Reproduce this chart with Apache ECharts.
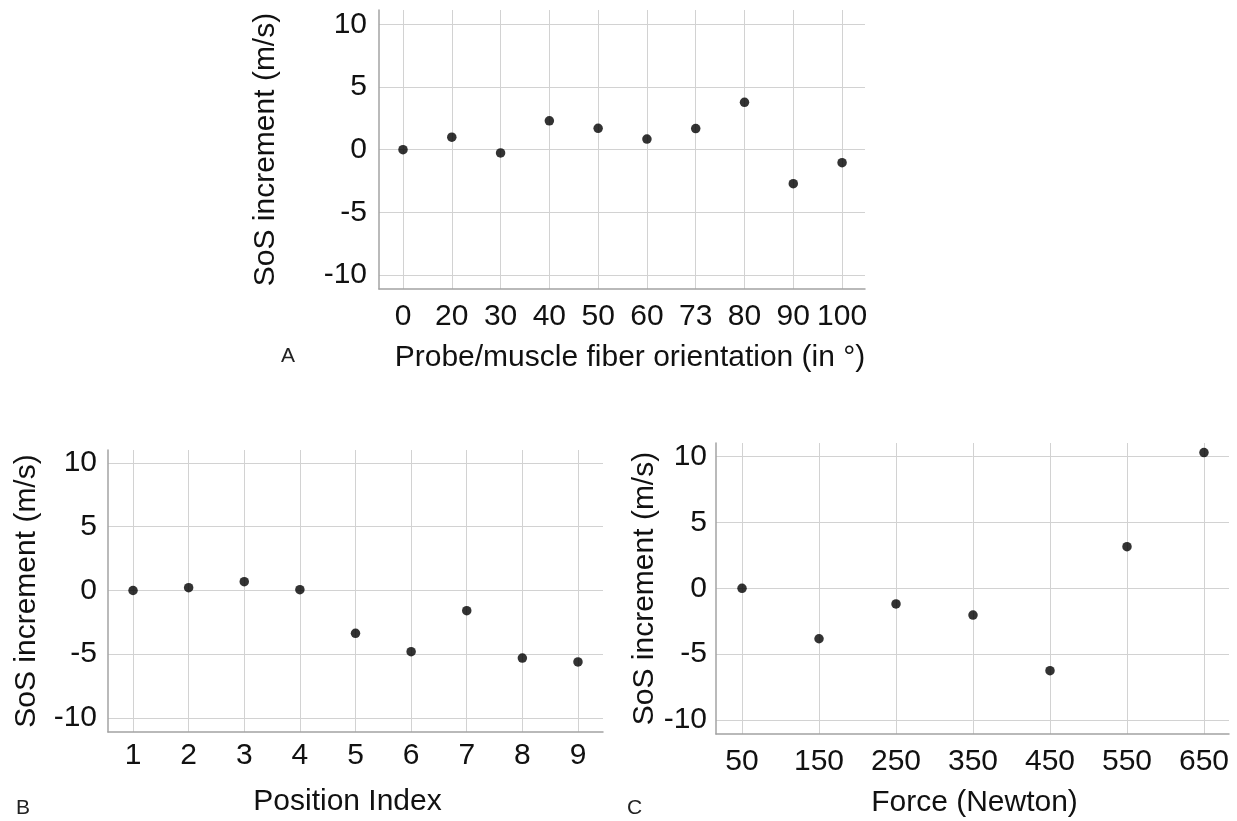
<!DOCTYPE html>
<html>
<head>
    <meta charset="utf-8">
    <title>SoS increment</title>
    <script src="https://cdn.jsdelivr.net/npm/echarts@6/dist/echarts.min.js"></script>
    <style>
      html, body { margin: 0; padding: 0; background: #fff; }
      #main { width: 1237px; height: 821px; }
    </style>
</head>
<body>
    <div id="main"></div>
    <script type="text/javascript">
      // panel A: orientation
      var aLabels = ['0', '20', '30', '40', '50', '60', '73', '80', '90', '100'];
      var aValues = [0.0, 1.0, -0.26, 2.3, 1.7, 0.85, 1.68, 3.78, -2.71, -1.04];
      // panel B: position
      var bLabels = ['1', '2', '3', '4', '5', '6', '7', '8', '9'];
      var bValues = [0.0, 0.22, 0.69, 0.06, -3.36, -4.8, -1.58, -5.3, -5.6];
      // panel C: force
      var cLabels = ['50', '150', '250', '350', '450', '550', '650'];
      var cValues = [0.0, -3.83, -1.19, -2.03, -6.25, 3.16, 10.3];
      var yTicks = [-10, -5, 0, 5, 10];

      var font = "'Liberation Sans', Arial, Helvetica, sans-serif";
      var textColor = '#111';

      function xAxisFor(i, labels, min, max, name, nameGap, shift, margin) {
        return {
          type: 'value', gridIndex: i, min: min, max: max, splitNumber: labels.length,
          name: name, nameLocation: 'middle', nameGap: nameGap,
          nameTextStyle: {
            fontSize: 30, color: textColor, fontFamily: font,
            padding: shift > 0 ? [0, 0, 0, shift * 2] : [0, -shift * 2, 0, 0]
          },
          axisLine: { show: true, onZero: false, lineStyle: { color: '#a3a3a3', width: 1.5 } },
          axisTick: { show: false },
          axisLabel: {
            fontSize: 30, color: textColor, fontFamily: font, margin: margin,
            showMinLabel: false, showMaxLabel: false,
            formatter: function (v) {
              return (Number.isInteger(v) && v >= 1 && v <= labels.length) ? labels[v - 1] : '';
            }
          },
          splitLine: { show: true, showMinLine: false, showMaxLine: false, lineStyle: { color: '#d2d2d2', width: 1 } }
        };
      }

      function yAxisFor(i, min, max, nameGap, margin) {
        return {
          type: 'value', gridIndex: i, min: min, max: max, splitNumber: 5,
          name: 'SoS increment (m/s)', nameLocation: 'middle', nameGap: nameGap,
          nameTextStyle: { fontSize: 30, color: textColor, fontFamily: font },
          axisLine: { show: true, onZero: false, lineStyle: { color: '#a3a3a3', width: 1.5 } },
          axisTick: { show: false },
          axisLabel: {
            fontSize: 30, color: textColor, fontFamily: font, margin: margin,
            showMinLabel: false, showMaxLabel: false,
            formatter: function (v) { return yTicks.indexOf(v) >= 0 ? String(v) : ''; }
          },
          splitLine: { show: true, showMinLine: false, showMaxLine: false, lineStyle: { color: '#d2d2d2', width: 1 } }
        };
      }

      function toPoints(values) {
        return values.map(function (v, k) { return [k + 1, v]; });
      }

      function panelTitle(t, left, top) {
        return { text: t, left: left, top: top, padding: 0,
          textStyle: { fontSize: 21, fontWeight: 'normal', color: '#222', fontFamily: font } };
      }

      var myChart = echarts.init(document.getElementById('main'));
      var option = {
        animation: false,
        backgroundColor: '#fff',
        title: [
          panelTitle('A', 281, 346),
          panelTitle('B', 16, 798),
          panelTitle('C', 627, 798)
        ],
        grid: [
          { left: 379, top: 10, width: 486, height: 279, outerBoundsMode: 'none' },
          { left: 108, top: 450, width: 495, height: 282, outerBoundsMode: 'none' },
          { left: 716, top: 443, width: 513, height: 291, outerBoundsMode: 'none' }
        ],
        xAxis: [
          xAxisFor(0, aLabels, 0.508, 10.47, 'Probe/muscle fiber orientation (in °)', 54, 8, 13),
          xAxisFor(1, bLabels, 0.55, 9.45, 'Position Index', 55, -8, 9),
          xAxisFor(2, cLabels, 0.662, 7.325, 'Force (Newton)', 54, 2, 13)
        ],
        yAxis: [
          yAxisFor(0, -11.11, 11.14, 98, 12),
          yAxisFor(1, -11.1, 11.02, 66, 11),
          yAxisFor(2, -11.06, 11.03, 55, 9)
        ],
        series: [
          { type: 'scatter', xAxisIndex: 0, yAxisIndex: 0, data: toPoints(aValues),
            symbolSize: 9.5, itemStyle: { color: '#000' } },
          { type: 'scatter', xAxisIndex: 1, yAxisIndex: 1, data: toPoints(bValues),
            symbolSize: 9.5, itemStyle: { color: '#000' } },
          { type: 'scatter', xAxisIndex: 2, yAxisIndex: 2, data: toPoints(cValues),
            symbolSize: 9.5, itemStyle: { color: '#000' } }
        ]
      };
      myChart.setOption(option);
    </script>
</body>
</html>
